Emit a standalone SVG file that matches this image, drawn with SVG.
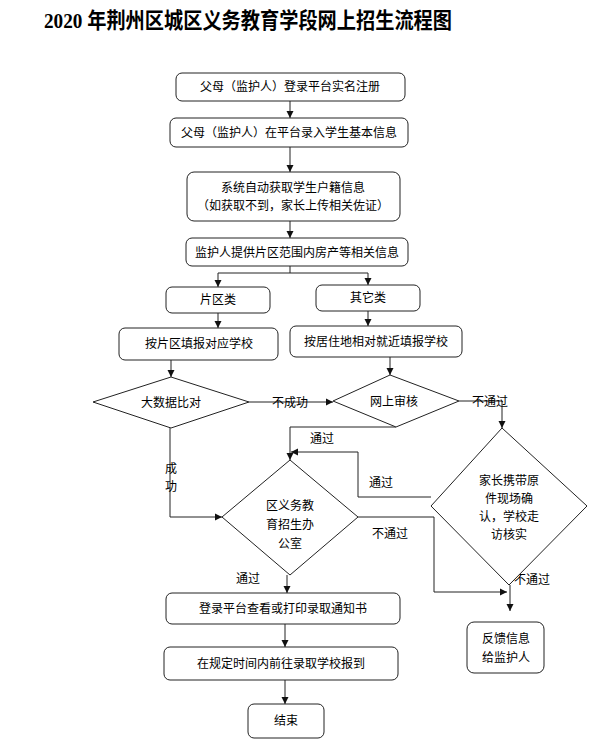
<svg xmlns="http://www.w3.org/2000/svg" width="597" height="743" viewBox="0 0 597 743">
<style>
.box{fill:#fff;stroke:#222;stroke-width:1}
.dia{fill:#fff;stroke:#222;stroke-width:1}
.t{font-family:"Liberation Sans","Noto Sans CJK SC",sans-serif;font-size:12px;fill:#000;text-anchor:middle}
.c{fill:none;stroke:#222;stroke-width:1}
.title{font-family:"Liberation Serif","Noto Sans CJK SC",serif;font-size:22px;font-weight:bold;fill:#000}
</style>
<defs>
<marker id="ar" markerWidth="8" markerHeight="8" refX="7" refY="4" orient="auto" markerUnits="userSpaceOnUse">
<path d="M0,0.5 L7,4 L0,7.5 Z" fill="#111"/>
</marker>
</defs>
<rect width="597" height="743" fill="#fff"/>
<text class="title" x="44" y="28" textLength="408" lengthAdjust="spacingAndGlyphs">2020 年荆州区城区义务教育学段网上招生流程图</text>

<g id="connectors">
<path class="c" d="M290,101 V118" marker-end="url(#ar)"/>
<path class="c" d="M290,147 V172" marker-end="url(#ar)"/>
<path class="c" d="M290,221 V238" marker-end="url(#ar)"/>
<path class="c" d="M290,266 V273 M218,273 H368"/>
<path class="c" d="M218,273 V287" marker-end="url(#ar)"/>
<path class="c" d="M368,273 V285" marker-end="url(#ar)"/>
<path class="c" d="M218,313 V328" marker-end="url(#ar)"/>
<path class="c" d="M368,311 V326" marker-end="url(#ar)"/>
<path class="c" d="M171,360 V377" marker-end="url(#ar)"/>
<path class="c" d="M390,357 V375" marker-end="url(#ar)"/>
<path class="c" d="M249,402 H333" marker-end="url(#ar)"/>
<text class="t" x="290" y="407">不成功</text>
<path class="c" d="M396,427 H290 V460" marker-end="url(#ar)"/>
<text class="t" x="322" y="443">通过</text>
<path class="c" d="M459,401 H502 V428" marker-end="url(#ar)"/>
<text class="t" x="490" y="406">不通过</text>
<path class="c" d="M431,497 H358 V452 H291" marker-end="url(#ar)"/>
<text class="t" x="381" y="487">通过</text>
<path class="c" d="M170,428 V517 H222" marker-end="url(#ar)"/>
<text class="t" x="171" y="473">成</text>
<text class="t" x="171" y="491">功</text>
<path class="c" d="M358,517 H434 V592 H507" marker-end="url(#ar)"/>
<text class="t" x="390" y="538">不通过</text>
<path class="c" d="M510,585 V611" marker-end="url(#ar)"/>
<text class="t" x="532" y="584">不通过</text>
<path class="c" d="M287,575 V593" marker-end="url(#ar)"/>
<text class="t" x="248" y="583">通过</text>
<path class="c" d="M285,624 V647" marker-end="url(#ar)"/>
<path class="c" d="M285,680 V704" marker-end="url(#ar)"/>
</g>

<g id="n1"><rect class="box" x="176" y="73" width="229" height="28" rx="6"/><text class="t" x="290" y="91">父母（监护人）登录平台实名注册</text></g>
<g id="n2"><rect class="box" x="170" y="118" width="238" height="29" rx="6"/><text class="t" x="289" y="137">父母（监护人）在平台录入学生基本信息</text></g>
<g id="n3"><rect class="box" x="187" y="172" width="213" height="49" rx="7"/><text class="t" x="293" y="192">系统自动获取学生户籍信息</text><text class="t" x="293" y="210">（如获取不到，家长上传相关佐证）</text></g>
<g id="n4"><rect class="box" x="186" y="238" width="222" height="28" rx="6"/><text class="t" x="297" y="257">监护人提供片区范围内房产等相关信息</text></g>
<g id="n5"><rect class="box" x="166" y="287" width="104" height="26" rx="6"/><text class="t" x="218" y="304">片区类</text></g>
<g id="n6"><rect class="box" x="316" y="285" width="104" height="26" rx="6"/><text class="t" x="368" y="302">其它类</text></g>
<g id="n7"><rect class="box" x="119" y="328" width="159" height="32" rx="6"/><text class="t" x="199" y="348">按片区填报对应学校</text></g>
<g id="n8"><rect class="box" x="290" y="326" width="172" height="31" rx="6"/><text class="t" x="376" y="346">按居住地相对就近填报学校</text></g>
<g id="n9"><polygon class="dia" points="171,377 249,402 171,428 93,402"/><text class="t" x="171" y="407">大数据比对</text></g>
<g id="n10"><polygon class="dia" points="390,375 459,401 396,427 333,401"/><text class="t" x="394" y="406">网上审核</text></g>
<g id="n11"><polygon class="dia" points="290,460 358,517 290,575 222,517"/><text class="t" x="290" y="510">区义务教</text><text class="t" x="290" y="529">育招生办</text><text class="t" x="290" y="548">公室</text></g>
<g id="n12"><polygon class="dia" points="502,428 587,506 509,585 431,506"/><text class="t" x="509" y="485">家长携带原</text><text class="t" x="509" y="503">件现场确</text><text class="t" x="509" y="521">认，学校走</text><text class="t" x="509" y="539">访核实</text></g>
<g id="n13"><rect class="box" x="166" y="593" width="234" height="31" rx="6"/><text class="t" x="283" y="613">登录平台查看或打印录取通知书</text></g>
<g id="n14"><rect class="box" x="164" y="647" width="234" height="33" rx="6"/><text class="t" x="281" y="668">在规定时间内前往录取学校报到</text></g>
<g id="n15"><rect class="box" x="248" y="704" width="76" height="34" rx="6"/><text class="t" x="286" y="725">结束</text></g>
<g id="n16"><rect class="box" x="467" y="622" width="77" height="51" rx="7"/><text class="t" x="506" y="643">反馈信息</text><text class="t" x="506" y="662">给监护人</text></g>
</svg>
